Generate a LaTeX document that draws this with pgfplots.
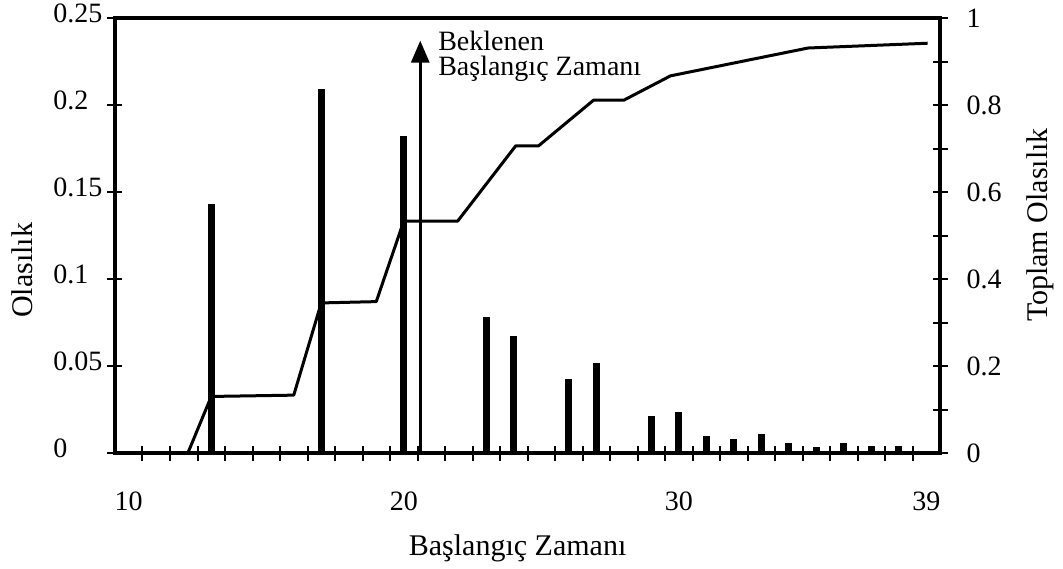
\documentclass[border=0pt]{standalone}
\usepackage{pgfplots}
\pgfplotsset{compat=1.18}
\usepackage{fontspec}
\setmainfont{Liberation Serif}
\usetikzlibrary{arrows.meta}

\pgfplotsset{
  common/.style={
    scale only axis, width=412.5pt, height=217.5pt,
    at={(0,0)}, anchor=south west,
    xmin=9.5, xmax=39.5,
    clip=false,
    axis line style={line width=1.8pt},
    tick align=center,
    major tick length=7.5pt, minor tick length=7.5pt,
    every tick/.style={black, line width=1pt},
    /pgf/number format/assume math mode=true,
    tick label style={font=\fontsize{14}{16}\selectfont},
  },
}

\begin{document}
\begin{tikzpicture}[x=1pt,y=1pt]
\useasboundingbox (-57.5,-57.5) rectangle (474,226.5);

% probability bars (left axis)
\begin{axis}[common,
    ymin=0, ymax=0.25,
    xtick={10,20,30,39}, xticklabels={10,20,30,39},
    major x tick style={draw=none},
    minor xtick={10.5,11.5,...,38.5},
    xtick pos=bottom, ytick pos=left,
    xticklabel style={anchor=north, yshift=-12pt},
    ytick={0,0.05,0.1,0.15,0.2,0.25},
    yticklabels={0,0.05,0.1,0.15,0.2,0.25},
    yticklabel style={anchor=east, text width=24pt, align=left,
                      xshift=0.5pt, yshift=2.5pt},
]
\addplot[ycomb, line width=3.6pt, mark=none] coordinates {
  (13,0.143) (17,0.209) (20,0.182) (23,0.078) (24,0.067)
  (26,0.0425) (27,0.052) (29,0.021) (30,0.0235) (31,0.0098)
  (32,0.008) (33,0.011) (34,0.006) (35,0.0035) (36,0.006)
  (37,0.004) (38,0.004)
};
% expected start time marker
\addplot[line width=1.5pt, -{Triangle[width=9pt,length=11pt]}] coordinates {(20.6,0) (20.6,0.237)};
\node[anchor=north west, align=left, inner sep=0pt,
      font=\fontsize{14}{12.5}\selectfont] at (axis cs:21.24,0.243)
  {Beklenen\\Başlangıç Zamanı};
\node[rotate=90, font=\fontsize{15}{17}\selectfont] at (rel axis cs:-0.113,0.42) {Olasılık};
\node[font=\fontsize{15}{17}\selectfont] at (rel axis cs:0.488,-0.218) {Başlangıç Zamanı};
\end{axis}

% cumulative probability (right axis)
\begin{axis}[common,
    ymin=0, ymax=1,
    axis x line=none, axis y line*=right,
    ytick={0,0.2,0.4,0.6,0.8,1},
    yticklabels={0,0.2,0.4,0.6,0.8,1},
    minor ytick={0.1,0.3,0.5,0.7,0.9},
    yticklabel style={anchor=west, xshift=6pt},
]
\addplot[line width=1.5pt, line join=round, mark=none] coordinates {
  (9.5,0) (12.15,0) (13,0.13) (16,0.133) (17,0.345) (19,0.348)
  (20,0.533) (21.96,0.533) (24.07,0.706) (24.9,0.706) (26.9,0.811)
  (28,0.811) (29.7,0.867) (34.7,0.931) (39.05,0.942)
};
\node[rotate=90, font=\fontsize{15}{17}\selectfont] at (rel axis cs:1.121,0.524) {Toplam Olasılık};
\end{axis}
\end{tikzpicture}
\end{document}
